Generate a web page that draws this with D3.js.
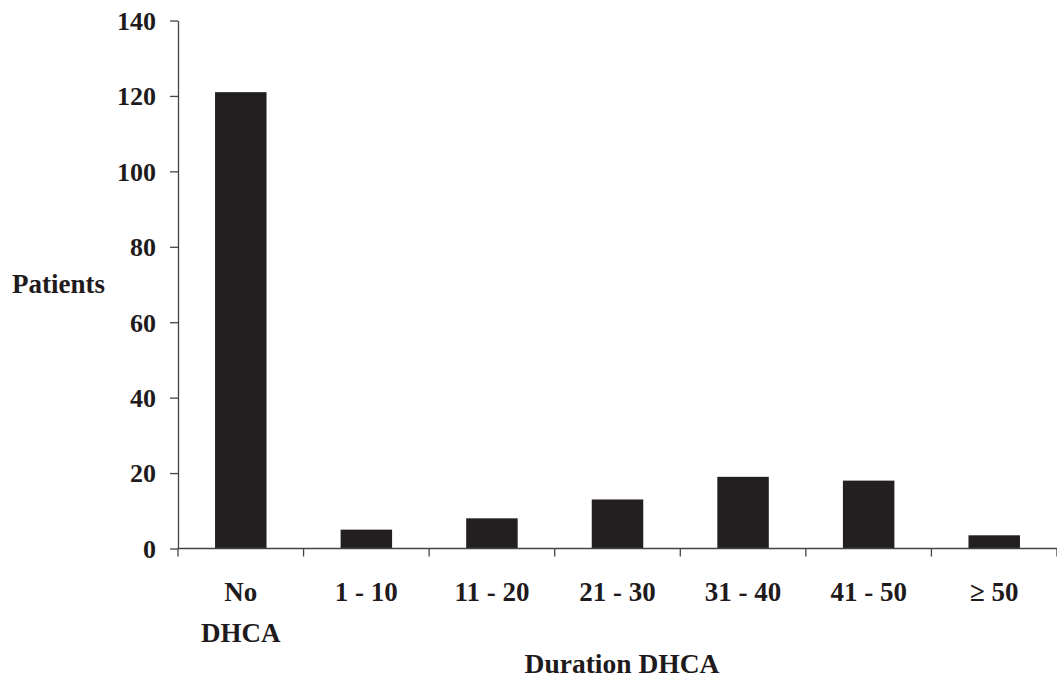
<!DOCTYPE html>
<html>
<head>
<meta charset="utf-8">
<script src="https://cdn.jsdelivr.net/npm/d3@7"></script>
<style>
  html, body { margin: 0; padding: 0; background: #fff; }
  svg text { font-family: "Liberation Serif", serif; font-weight: bold; fill: #1f1b1c; }
</style>
</head>
<body>
<svg id="chart" width="1057" height="682" font-family="Liberation Serif"></svg>
<script>
const categories = ["No DHCA", "1 - 10", "11 - 20", "21 - 30", "31 - 40", "41 - 50", "\u2265 50"];
const patients = [121, 5, 8, 13, 19, 18, 3.5];
const yTicks = [0, 20, 40, 60, 80, 100, 120, 140];
const yTitle = "Patients";
const xTitle = "Duration DHCA";

(function () {
const svg = d3.select("#chart");
const mLeft = 178, mRight = 1057, mTop = 20.5, mBottom = 548.5;
const ink = "#231f20", axisCol = "#444";

const x = d3.scaleBand().domain(categories).range([mLeft, mRight]).paddingInner(0.59).paddingOuter(0.295);
const y = d3.scaleLinear().domain([0, 140]).range([mBottom, mTop]);

svg.append("g").selectAll("rect").data(categories).join("rect")
  .attr("x", d => x(d))
  .attr("width", x.bandwidth())
  .attr("y", (d, i) => y(patients[i]))
  .attr("height", (d, i) => y(0) - y(patients[i]))
  .attr("fill", ink);

const yAxis = svg.append("g").attr("transform", `translate(${mLeft},0)`)
  .call(d3.axisLeft(y).tickValues(yTicks).tickSize(8).tickSizeOuter(0).tickPadding(14));
yAxis.attr("font-family", null).attr("font-size", null);
yAxis.select(".domain").attr("stroke", axisCol).attr("stroke-width", 1.3);
yAxis.selectAll(".tick line").attr("stroke", axisCol).attr("stroke-width", 1.3);
yAxis.selectAll(".tick text").style("font-size", "26px").attr("dy", "0.34em");

svg.append("line").attr("x1", mLeft).attr("x2", mRight).attr("y1", mBottom).attr("y2", mBottom)
  .attr("stroke", axisCol).attr("stroke-width", 1.3);
const bounds = d3.range(categories.length + 1).map(i => x.range()[0] + i * x.step());
svg.append("g").selectAll("line").data(bounds).join("line")
  .attr("x1", d => d).attr("x2", d => d).attr("y1", mBottom).attr("y2", mBottom + 8)
  .attr("stroke", axisCol).attr("stroke-width", 1.3);

const xl = svg.append("g").selectAll("text").data(categories).join("text")
  .attr("text-anchor", "middle")
  .attr("x", d => x(d) + x.bandwidth() / 2)
  .attr("y", 601)
  .style("font-size", "27px");
xl.each(function (d) {
  const parts = d === "No DHCA" ? ["No", "DHCA"] : [d];
  const t = d3.select(this);
  parts.forEach((p, i) => {
    t.append("tspan").attr("x", x(d) + x.bandwidth() / 2).attr("dy", i === 0 ? 0 : 41).text(p);
  });
});

svg.append("text").attr("x", 12).attr("y", 293).style("font-size", "27px").text(yTitle);
svg.append("text").attr("x", 622).attr("y", 673).attr("text-anchor", "middle").style("font-size", "27.5px").text(xTitle);
})();
</script>
</body>
</html>
